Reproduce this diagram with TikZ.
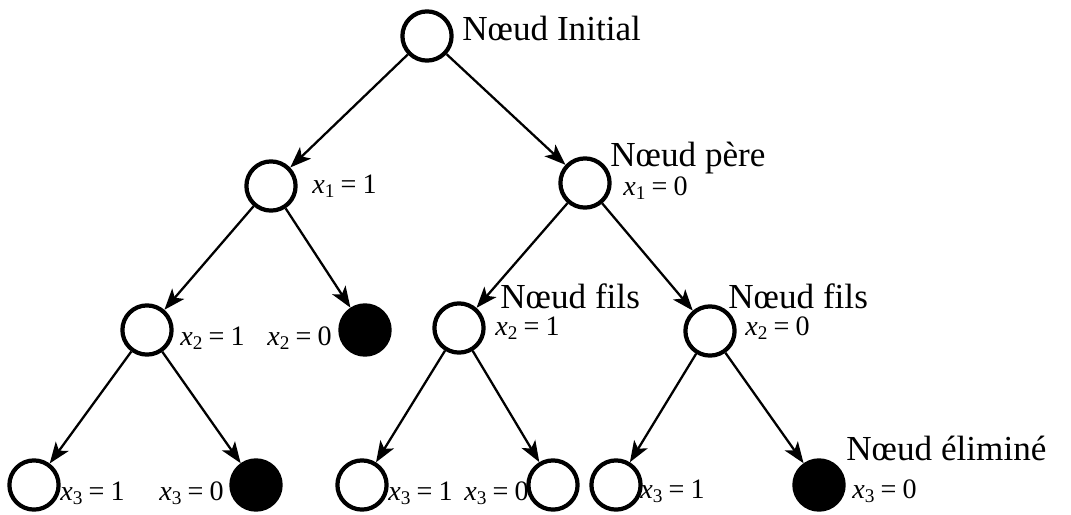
\documentclass[tikz,border=0pt]{standalone}
\usepackage{fontspec}
\setmainfont{Liberation Serif}
\usetikzlibrary{arrows.meta}
\newcommand{\xval}[2]{\textit{x}\raisebox{-0.35ex}{\fontsize{11}{11}\selectfont #1}\hspace{0.22em}=\hspace{0.22em}#2}

\begin{document}
\begin{tikzpicture}[x=0.02cm,y=-0.02cm,
  etat/.style={circle,draw,line width=2.4pt,minimum size=28pt,inner sep=0pt},
  elimine/.style={etat,fill=black},
  fleche/.style={-{Stealth[length=12pt,width=9pt,inset=3pt]},line width=1.3pt},
  titre/.style={font=\fontsize{20}{20}\selectfont,anchor=base west,inner sep=0pt},
  valeur/.style={font=\fontsize{16}{16}\selectfont,anchor=base west,inner sep=0pt}]
\useasboundingbox (0,0) rectangle (1071,514);

% les noeuds
\node[etat] (racine) at (427,36) {};
\node[etat] (g) at (271,186) {};
\node[etat] (d) at (585,183) {};
\node[etat] (gg) at (147,330) {};
\node[elimine] (gd) at (365,330) {};
\node[etat] (dg) at (459,328) {};
\node[etat] (dd) at (710,331) {};
\node[etat] (ggg) at (34,485) {};
\node[elimine] (ggd) at (256,485) {};
\node[etat] (dgg) at (362,485) {};
\node[etat] (dgd) at (553,485) {};
\node[etat] (ddg) at (616,485) {};
\node[elimine] (ddd) at (819,485) {};

% les branches
\draw[fleche] (racine) -- (g);
\draw[fleche] (racine) -- (d);
\draw[fleche] (g) -- (gg);
\draw[fleche] (g) -- (gd);
\draw[fleche] (d) -- (dg);
\draw[fleche] (d) -- (dd);
\draw[fleche] (gg) -- (ggg);
\draw[fleche] (gg) -- (ggd);
\draw[fleche] (dg) -- (dgg);
\draw[fleche] (dg) -- (dgd);
\draw[fleche] (dd) -- (ddg);
\draw[fleche] (dd) -- (ddd);

% les textes
\node[titre] (tInit) at (462,40) {Nœud Initial};
\node[titre] (tPere) at (610,166) {Nœud père};
\node[titre] (tFilsA) at (500,308) {Nœud fils};
\node[titre] (tFilsB) at (728,308) {Nœud fils};
\node[titre] (tElim) at (846,460) {Nœud éliminé};

\node[valeur] (v1) at (312,193) {\xval{1}{1}};
\node[valeur] (v2) at (623,195) {\xval{1}{0}};
\node[valeur] (v3) at (180,345) {\xval{2}{1}};
\node[valeur] (v4) at (267,345) {\xval{2}{0}};
\node[valeur] (v5) at (495,335) {\xval{2}{1}};
\node[valeur] (v6) at (745,335) {\xval{2}{0}};
\node[valeur] (v7) at (60,500) {\xval{3}{1}};
\node[valeur] (v8) at (159,500) {\xval{3}{0}};
\node[valeur] (v9) at (388,500) {\xval{3}{1}};
\node[valeur] (v10) at (464,500) {\xval{3}{0}};
\node[valeur] (v11) at (640,498) {\xval{3}{1}};
\node[valeur] (v12) at (852,498) {\xval{3}{0}};
\end{tikzpicture}
\end{document}
